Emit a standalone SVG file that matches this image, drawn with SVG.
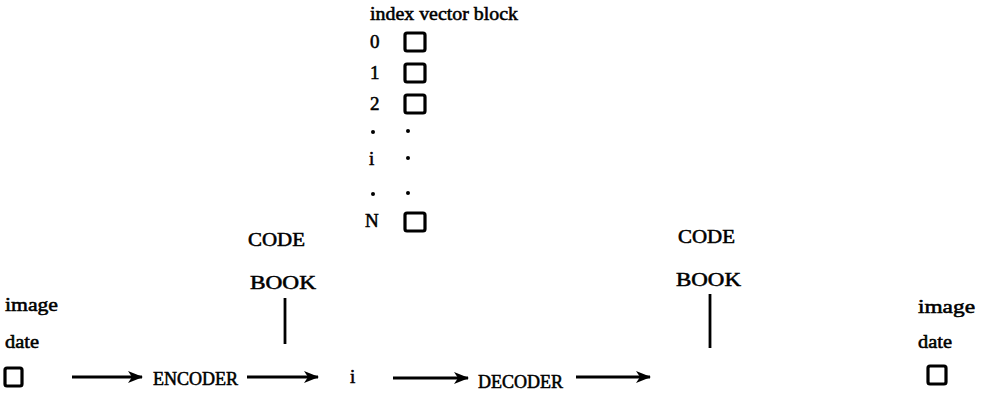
<svg xmlns="http://www.w3.org/2000/svg" width="986" height="394" viewBox="0 0 986 394">
  <style>
    text { font-family: "Liberation Serif", "Times New Roman", serif; font-size: 19px; fill: #000; stroke: #000; stroke-width: 0.55; }
    .caps { font-size: 18px; }
    .box { fill: none; stroke: #000; stroke-width: 3.2; }
    .wire { stroke: #000; stroke-width: 2.8; fill: none; }
    .dot { fill: #000; }
  </style>
  <defs>
    <marker id="head" markerWidth="15" markerHeight="12" refX="14" refY="6" orient="auto" markerUnits="userSpaceOnUse">
      <path d="M0,0 L15,6 L0,12 L4,6 Z" fill="#000"/>
    </marker>
  </defs>

  <rect width="986" height="394" fill="#fff"/>

  <!-- code book table: index column and vector blocks -->
  <g id="codebook-table">
    <text x="370" y="20" textLength="148" lengthAdjust="spacingAndGlyphs">index vector block</text>
    <text x="370" y="48">0</text>
    <rect class="box" x="405" y="33" width="20" height="18" rx="2"/>
    <text x="370" y="79">1</text>
    <rect class="box" x="405" y="64" width="20" height="18" rx="2"/>
    <text x="370" y="110">2</text>
    <rect class="box" x="405" y="95" width="20" height="18" rx="2"/>
    <circle class="dot" cx="373" cy="132" r="2"/>
    <circle class="dot" cx="408" cy="131" r="2"/>
    <text x="369" y="165">i</text>
    <circle class="dot" cx="408" cy="158" r="2"/>
    <circle class="dot" cx="373" cy="194" r="2"/>
    <circle class="dot" cx="408" cy="193" r="2"/>
    <text x="365" y="227">N</text>
    <rect class="box" x="405" y="213" width="20" height="18" rx="2"/>
  </g>

  <!-- input image data -->
  <g id="input">
    <text x="5" y="311" textLength="53" lengthAdjust="spacingAndGlyphs">image</text>
    <text x="5" y="348" textLength="34" lengthAdjust="spacingAndGlyphs">date</text>
    <rect class="box" x="5" y="368" width="17" height="18" rx="2"/>
  </g>

  <g id="encoder">
    <text class="caps" x="153" y="385">ENCODER</text>
  </g>

  <g id="codebook-enc">
    <text x="248" y="246" textLength="57" lengthAdjust="spacingAndGlyphs">CODE</text>
    <text x="250" y="289" textLength="66" lengthAdjust="spacingAndGlyphs">BOOK</text>
  </g>

  <g id="index">
    <text x="350" y="383">i</text>
  </g>

  <g id="decoder">
    <text class="caps" x="478" y="388">DECODER</text>
  </g>

  <g id="codebook-dec">
    <text x="678" y="243" textLength="57" lengthAdjust="spacingAndGlyphs">CODE</text>
    <text x="676" y="286" textLength="65" lengthAdjust="spacingAndGlyphs">BOOK</text>
  </g>

  <!-- output image data -->
  <g id="output">
    <text x="918" y="313" textLength="57" lengthAdjust="spacingAndGlyphs">image</text>
    <text x="918" y="348" textLength="34" lengthAdjust="spacingAndGlyphs">date</text>
    <rect class="box" x="928" y="366" width="18" height="18" rx="2"/>
  </g>

  <!-- connectors -->
  <g id="connectors">
    <line class="wire" x1="72" y1="377" x2="142" y2="377" marker-end="url(#head)"/>
    <line class="wire" x1="247" y1="377" x2="318" y2="377" marker-end="url(#head)"/>
    <line class="wire" x1="393" y1="378" x2="468" y2="378" marker-end="url(#head)"/>
    <line class="wire" x1="576" y1="377" x2="650" y2="377" marker-end="url(#head)"/>
    <line class="wire" x1="285" y1="298" x2="285" y2="344"/>
    <line class="wire" x1="710" y1="294" x2="710" y2="348"/>
  </g>
</svg>
